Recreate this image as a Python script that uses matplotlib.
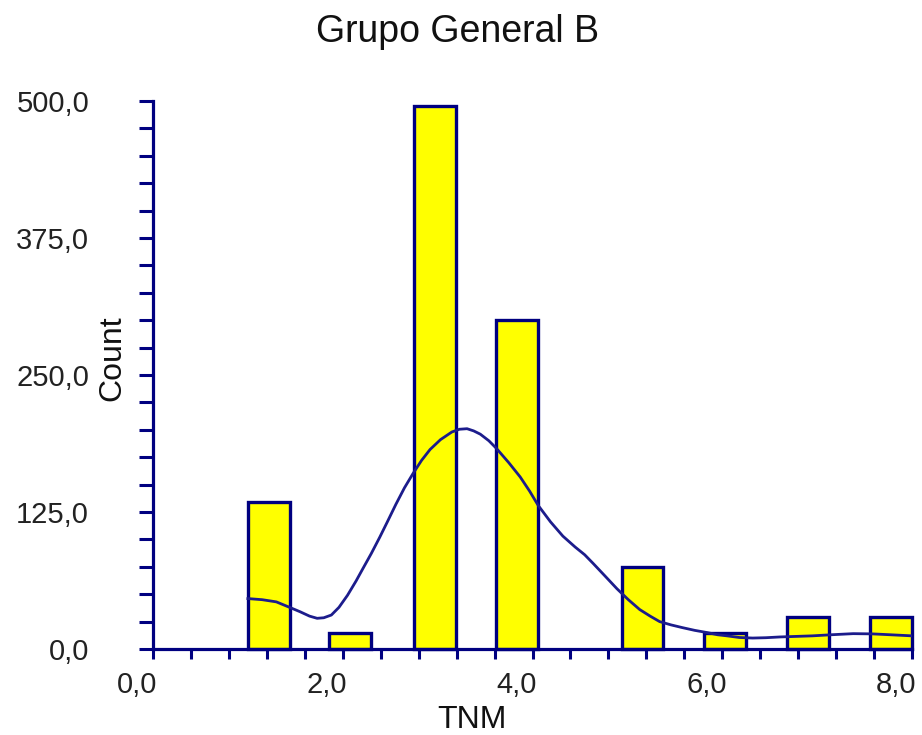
import matplotlib
matplotlib.use("Agg")
import matplotlib.pyplot as plt
import matplotlib.transforms as mtransforms
from matplotlib.ticker import FixedLocator, FuncFormatter
import numpy as np

plt.rcParams['font.family'] = ['Liberation Sans', 'DejaVu Sans']

# ---- data ----
title = "Grupo General B"
x_label = "TNM"
y_label = "Count"
bar_left = [1.00, 1.86, 2.75, 3.62, 4.94, 5.81, 6.68, 7.56]
bar_width = 0.44
bar_count = [134, 15, 495, 300, 75, 15, 29, 29]

curve_x = [1.00, 1.15, 1.30, 1.44, 1.55, 1.65, 1.73, 1.80, 1.88, 1.96, 2.05,
           2.14, 2.21, 2.30, 2.39, 2.47, 2.56, 2.65, 2.74, 2.83, 2.92, 3.03,
           3.15, 3.23, 3.31, 3.38, 3.45, 3.54, 3.62, 3.75, 3.87, 3.97, 4.06,
           4.19, 4.32, 4.45, 4.55, 4.64, 4.76, 4.89, 5.01, 5.13, 5.24, 5.34,
           5.46, 5.58, 5.71, 5.84, 5.95, 6.05, 6.18, 6.32, 6.46, 6.61, 6.78,
           6.95, 7.15, 7.38, 7.58, 7.77, 8.00]
curve_y = [46, 45, 43, 38, 34, 30, 28, 28.5, 31, 38, 49,
           62, 73, 87, 102, 116, 132, 147, 160, 172, 182, 191,
           198, 200.5, 201, 199, 196, 190, 183, 170, 157, 144, 131,
           116, 103, 93, 86, 78, 67, 55, 45, 36, 30, 25,
           22, 19.5, 17, 15, 13, 12, 10.5, 10, 10.3, 11, 11.5,
           12, 13, 14, 13.8, 13, 12]

x_ticks_major = [0, 2, 4, 6, 8]
x_ticks_minor = [i * 0.4 for i in range(21)]
y_ticks_major = [0, 125, 250, 375, 500]
y_ticks_minor = list(range(0, 501, 25))

navy = "#000080"

fig = plt.figure(figsize=(9.22, 7.35), dpi=100)
W, H = 922, 735
ax = fig.add_axes([153 / W, 1 - 649 / H, (912 - 153) / W, (649 - 101) / H])

ax.bar(bar_left, bar_count, width=bar_width, align='edge', color="#FFFF00",
       edgecolor=navy, linewidth=2.4, zorder=2, clip_on=False)
ax.plot(curve_x, curve_y, color="#1c1c8c", linewidth=2.0, zorder=3,
        solid_joinstyle='round')

ax.set_xlim(0, 8)
ax.set_ylim(0, 500)

for s in ['top', 'right']:
    ax.spines[s].set_visible(False)
for s in ['left', 'bottom']:
    ax.spines[s].set_color(navy)
    ax.spines[s].set_linewidth(2.3)
    ax.spines[s].set_zorder(4)

fmt = FuncFormatter(lambda v, p: f"{v:.1f}".replace('.', ','))
ax.xaxis.set_major_locator(FixedLocator(x_ticks_major))
ax.xaxis.set_minor_locator(FixedLocator(x_ticks_minor))
ax.yaxis.set_major_locator(FixedLocator(y_ticks_major))
ax.yaxis.set_minor_locator(FixedLocator(y_ticks_minor))
ax.xaxis.set_major_formatter(fmt)
ax.yaxis.set_major_formatter(fmt)

ax.tick_params(axis='y', which='both', direction='out', length=10, width=2.2,
               color=navy, labelsize=21, labelcolor="#222222", pad=36)
ax.tick_params(axis='x', which='both', direction='out', length=7, width=2.2,
               color=navy, labelsize=21, labelcolor="#222222", pad=9)

offset = mtransforms.ScaledTranslation(-16 / 100, 0, fig.dpi_scale_trans)
for lbl in ax.get_xticklabels():
    lbl.set_transform(lbl.get_transform() + offset)

ax.set_xlabel(x_label, fontsize=23, color="#111111")
ax.xaxis.set_label_coords((472 - 153) / 759, -71 / 548)
ax.xaxis.label.set_va('center')
ax.set_ylabel(y_label, fontsize=23, color="#111111")
ax.yaxis.set_label_coords((112 - 153) / 759, 0.53)
ax.yaxis.label.set_va('center')

fig.text(458 / W, 1 - 32 / H, title, fontsize=27, ha='center', va='center',
         color="#111111")

fig.savefig("out.png", dpi=100)
